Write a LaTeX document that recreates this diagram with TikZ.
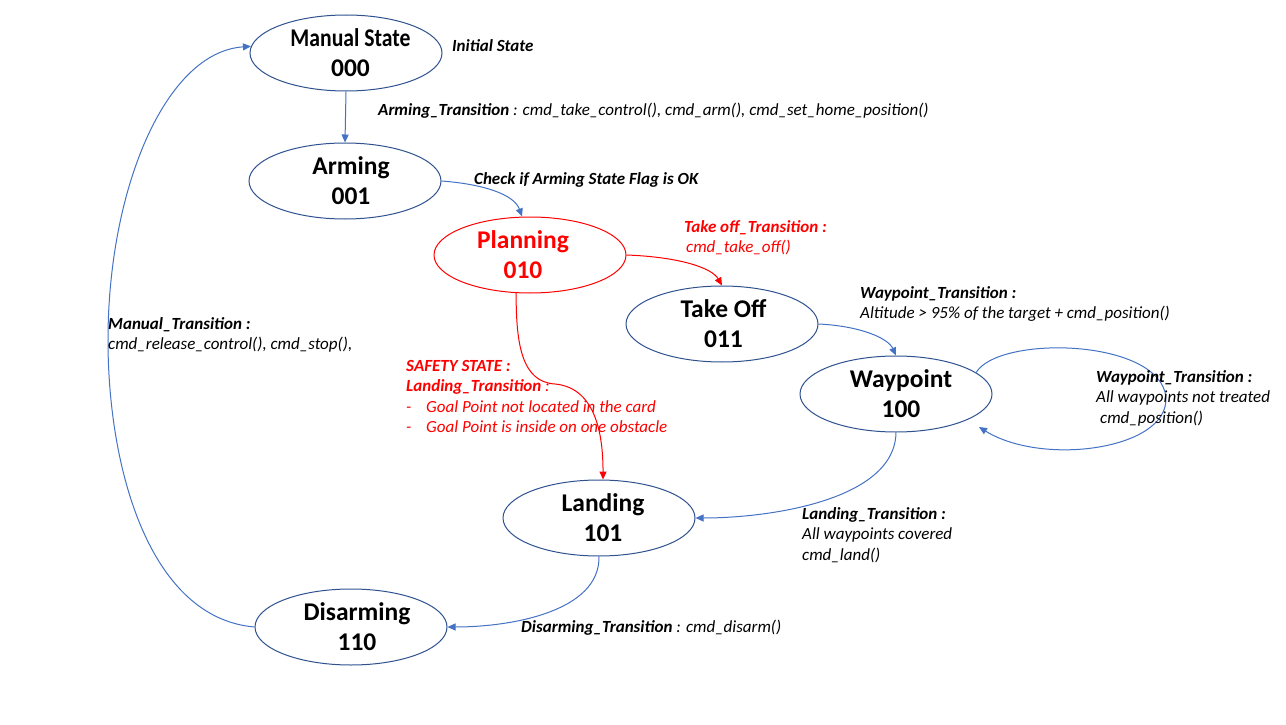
\documentclass[tikz,border=0pt]{standalone}
\usepackage{fontspec}
\setmainfont{Carlito}
\usetikzlibrary{arrows.meta,shapes.geometric}
\definecolor{lineblue}{HTML}{4472C4}
\definecolor{edgeblue}{HTML}{2F528F}
\definecolor{alert}{HTML}{FF0000}
\tikzset{
  state/.style={ellipse, draw=edgeblue, line width=1pt, minimum width=192pt, minimum height=76pt,
    inner sep=0pt, align=center, font=\fontsize{25.5}{30}\selectfont\bfseries},
  redstate/.style={state, draw=alert, text=alert},
  conn/.style={draw=lineblue, line width=1pt, -{Triangle[length=8pt,width=7pt]}},
  redconn/.style={conn, draw=alert},
  lbl/.style={anchor=base west, align=left, inner sep=0pt, font=\fontsize{17}{20.5}\selectfont\itshape},
}
\newcommand{\bi}[1]{{\bfseries #1}}
% shift text right (#1>0) or left (#1<0) inside its ellipse
\newcommand{\sr}[1]{\hspace*{#1}}
\begin{document}
\begin{tikzpicture}[x=1pt,y=-1pt]
\useasboundingbox[fill=white] (0,0) rectangle (1286,725);

\node[state] (man) at (346,53) {\sr{9pt}\scalebox{0.85}[1]{Manual State}\\\sr{9pt}000};
\node[state] (arm) at (345,181) {\sr{12pt}Arming\\\sr{12pt}001};
\node[redstate] (plan) at (530,255) {Planning\sr{14pt}\\010\sr{14pt}};
\node[state] (to) at (722,324) {\sr{3pt}Take Off\\\sr{3pt}011};
\node[state] (wp) at (896,394) {\sr{10pt}Waypoint\\\sr{10pt}100};
\node[state] (land) at (599,518) {\sr{8pt}Landing\\\sr{8pt}101};
\node[state] (dis) at (351,627) {\sr{12pt}Disarming\\\sr{12pt}110};

\coordinate (wpin) at (979,427);

\draw[conn] (man.south) -- (arm.north);
\draw[conn] (arm.east) .. controls (482,184) and (514,194) .. ([xshift=-8pt]plan.north);
\draw[redconn] (plan.east) .. controls (680,257) and (712,268) .. (to.north);
\draw[conn] (to.east) .. controls (860,326) and (888,338) .. (wp.north);
\draw[conn] (wp.15) .. controls (998,336) and (1150,338) .. (1165,392)
   .. controls (1178,448) and (1045,468) .. (wpin);
\draw[redconn] (plan.250) .. controls (516,345) and (522,382) .. (555,384)
   .. controls (598,388) and (603,440) .. (land.84);
\draw[conn] (wp.south) .. controls (895,500) and (770,518) .. (land.east);
\draw[conn] (land.south) .. controls (600,612) and (510,627) .. (dis.east);
\draw[conn] (dis.west) .. controls (150,618) and (108,470) .. (108,340)
   .. controls (108,190) and (165,52) .. (man.176);

\node[lbl] (l1) at (452,52) {\bi{Initial State}};
\node[lbl] (l2) at (378,116) {\bi{Arming\_Transition} : cmd\_take\_control(), cmd\_arm(), cmd\_set\_home\_position()};
\node[lbl] (l3) at (474,184) {\bi{Check if Arming State Flag is OK}};
\node[lbl, text=alert] (l4) at (684,252.5) {\bi{Take off\_Transition :}\\\hspace{2pt}cmd\_take\_off()};
\node[lbl] (l5) at (860,318.5) {\bi{Waypoint\_Transition :}\\Altitude > 95\% of the target + cmd\_position()};
\node[lbl] (l6) at (1096,423) {\bi{Waypoint\_Transition :}\\All waypoints not treated\\\hspace{4pt}cmd\_position()};
\node[lbl, text=alert] (l7) at (406,432.5) {\bi{SAFETY STATE :}\\\bi{Landing\_Transition} :\\\makebox[20pt][l]{-}Goal Point not located in the card\\\makebox[20pt][l]{-}Goal Point is inside on one obstacle};
\node[lbl] (l8) at (108,349.5) {\bi{Manual\_Transition :}\\cmd\_release\_control(), cmd\_stop(),};
\node[lbl] (l9) at (802,560) {\bi{Landing\_Transition :}\\All waypoints covered\\cmd\_land()};
\node[lbl] (l10) at (521,632) {\bi{Disarming\_Transition} : cmd\_disarm()};
\end{tikzpicture}
\end{document}
